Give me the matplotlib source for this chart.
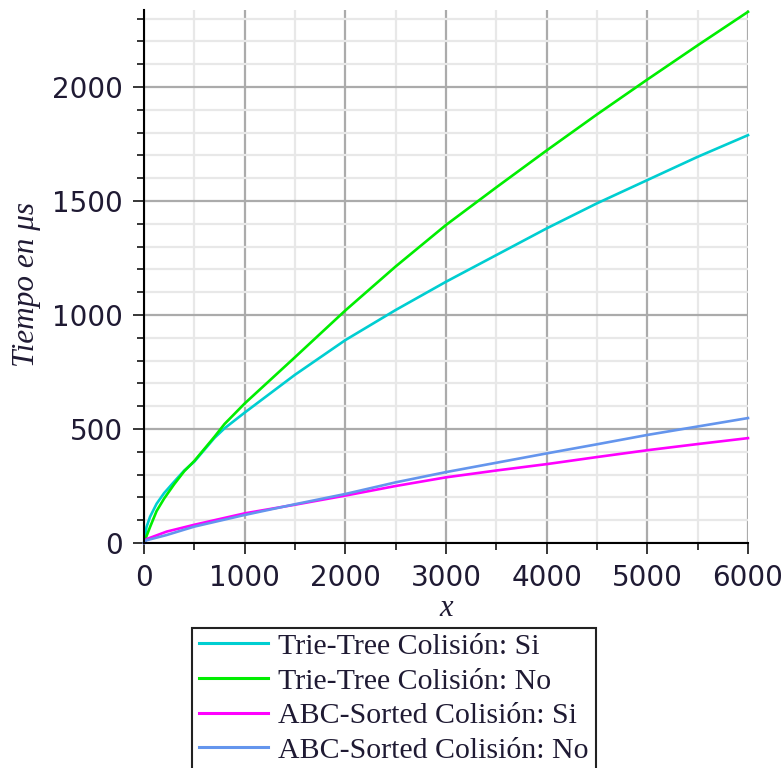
import numpy as np
import matplotlib
matplotlib.use("Agg")
import matplotlib.pyplot as plt
from matplotlib.ticker import MultipleLocator
from matplotlib.patches import Rectangle

# measured times (microseconds) against number of words x
x_trie = [0, 25, 60, 125, 200, 300, 400, 500, 700, 800, 1000, 1500, 2000,
          2500, 3000, 3500, 4000, 4500, 5000, 5500, 6000]
trie_si = [0, 70, 115, 172, 219, 269, 318, 357, 461, 503, 572, 738, 890,
           1022, 1146, 1263, 1380, 1490, 1592, 1694, 1789]
trie_no = [0, 30, 70, 140, 195, 258, 315, 360, 466, 522, 612, 815, 1020,
           1213, 1395, 1560, 1722, 1880, 2033, 2183, 2330]

x_abc = [0, 25, 225, 500, 1000, 1500, 2000, 2500, 3000, 3500, 4000, 4500,
         5000, 5500, 6000]
abc_si = [0, 17, 50, 80, 130, 168, 208, 250, 288, 318, 346, 377, 407, 434, 460]
abc_no = [0, 12, 35, 72, 123, 170, 215, 266, 311, 352, 393, 433, 474, 511, 548]

labels = ["Trie-Tree Colisión: Si", "Trie-Tree Colisión: No",
          "ABC-Sorted Colisión: Si", "ABC-Sorted Colisión: No"]
colors = ["#00ced1", "#00ee00", "#ff00ff", "#6495ed"]

tick_font = ["DejaVu Sans"]
serif_font = ["Liberation Serif", "DejaVu Serif"]
txt_col = "#1f1a33"

fig = plt.figure(figsize=(7.84, 7.68), dpi=100)
ax = fig.add_axes([144/784, 1 - 543/768, 604/784, 533/768])

series = [(x_trie, trie_si), (x_trie, trie_no), (x_abc, abc_si), (x_abc, abc_no)]
for (xs, ys), lab, col in zip(series, labels, colors):
    ax.plot(xs, ys, color=col, lw=1.9, label=lab, clip_on=False, zorder=3)

ax.set_xlim(0, 6000)
ax.set_ylim(0, 2338)
ax.xaxis.set_major_locator(MultipleLocator(1000))
ax.xaxis.set_minor_locator(MultipleLocator(500))
ax.yaxis.set_major_locator(MultipleLocator(500))
ax.yaxis.set_minor_locator(MultipleLocator(100))

ax.grid(which="major", color="#ababab", lw=1.6, zorder=0)
ax.grid(which="minor", color="#e8e8e8", lw=1.6, zorder=0)
ax.set_axisbelow(True)

for s in ["top", "right"]:
    ax.spines[s].set_visible(False)
for s in ["left", "bottom"]:
    ax.spines[s].set_linewidth(1.5)
    ax.spines[s].set_zorder(4)

ax.tick_params(which="major", length=8, width=1.1, pad=7, labelsize=20,
               labelcolor=txt_col)
ax.tick_params(which="minor", length=5, width=1.1)
for lab in ax.get_xticklabels() + ax.get_yticklabels():
    lab.set_family(tick_font)

ax.set_xlabel("x", family=serif_font, style="italic", fontsize=22,
              color=txt_col, va="center")
ax.xaxis.set_label_coords(0.5, -65/533)
ax.set_ylabel("Tiempo en μs", family=serif_font, style="italic", fontsize=22.5,
              color=txt_col, va="center")
ax.yaxis.set_label_coords(-117/604, 0.485)

leg = fig.legend(loc="upper left", bbox_to_anchor=(199/784, 1 - 633/768),
                 frameon=False, prop={"family": serif_font, "size": 21.5},
                 handlelength=2.3, handletextpad=0.35, labelspacing=0.26,
                 borderaxespad=0, borderpad=0)
for t in leg.get_texts():
    t.set_color(txt_col)
for h in leg.get_lines():
    h.set_linewidth(2.2)

# legend frame runs past the bottom edge of the figure
fig.patches.append(Rectangle((192/784, -0.02), (596 - 192)/784, 1 - 628/768 + 0.02,
                             transform=fig.transFigure, fill=False,
                             edgecolor="#222222", lw=1.5))

fig.savefig("out.png", dpi=100)
